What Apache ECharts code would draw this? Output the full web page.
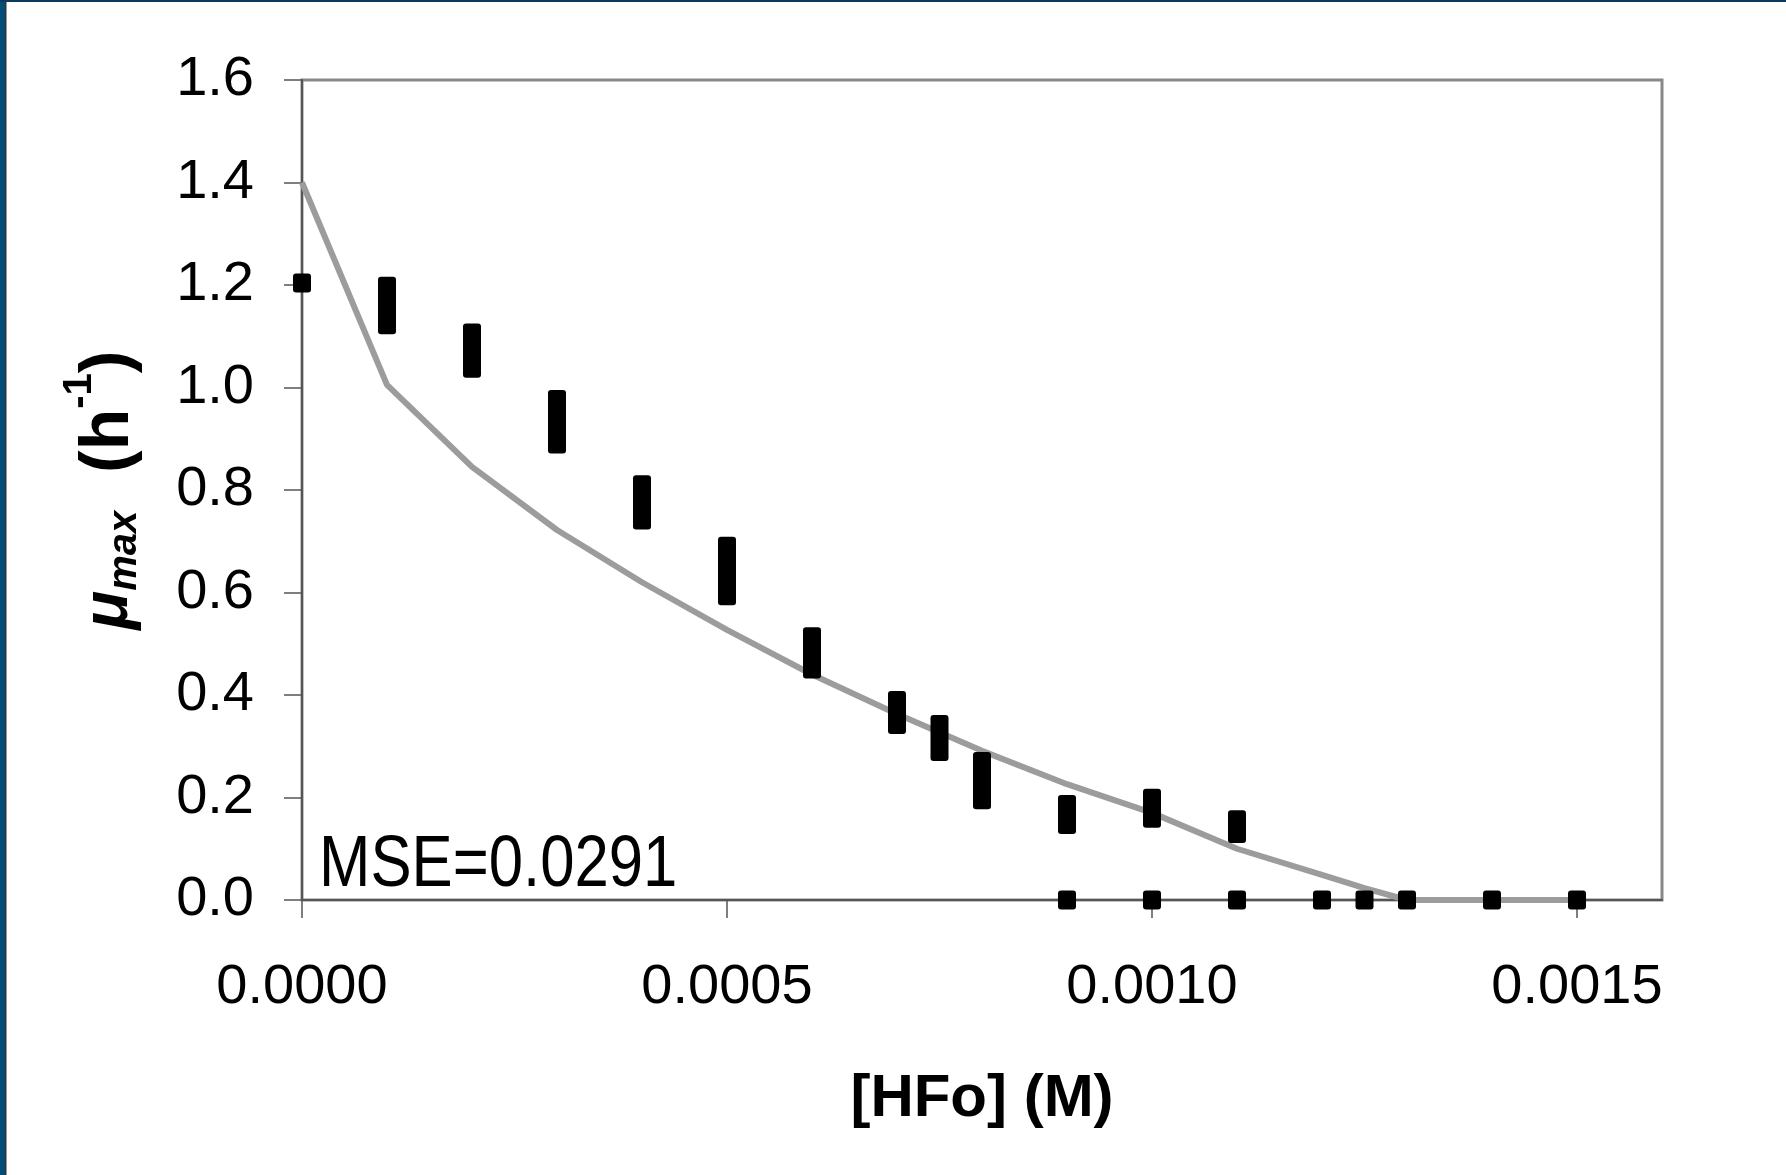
<!DOCTYPE html>
<html>
<head>
<meta charset="utf-8">
<script src="https://cdn.jsdelivr.net/npm/echarts@6/dist/echarts.min.js"></script>
<style>
html, body { margin: 0; padding: 0; background: #fff; }
#main { width: 1786px; height: 1175px; }
</style>
</head>
<body>
<div id="main"></div>
<script>
// 实验点：[HFo] (M)，均值，误差（半高）
var pointX = [0, 0.0001, 0.0002, 0.0003, 0.0004, 0.0005, 0.0006, 0.0007, 0.00075, 0.0008, 0.0009, 0.0010, 0.0011,
	0.0009, 0.0010, 0.0011, 0.0012, 0.00125, 0.0013, 0.0014, 0.0015];
var pointMean = [1.204, 1.16, 1.072, 0.933, 0.776, 0.642, 0.482, 0.366, 0.316, 0.233, 0.167, 0.179, 0.143,
	0, 0, 0, 0, 0, 0, 0, 0];
var pointErr = [0, 0.056, 0.053, 0.062, 0.053, 0.067, 0.05, 0.042, 0.045, 0.056, 0.038, 0.038, 0.032,
	0, 0, 0, 0, 0, 0, 0, 0];

// 模型曲线
var modelX = [0, 0.0001, 0.0002, 0.0003, 0.0004, 0.0005, 0.0006, 0.0007, 0.0008, 0.0009, 0.0010, 0.0011, 0.0012,
	0.00125, 0.0013, 0.0014, 0.0015];
var modelY = [1.4, 1.005, 0.845, 0.722, 0.62, 0.527, 0.44, 0.363, 0.291, 0.226, 0.17, 0.10, 0.049,
	0.023, 0, 0, 0];

// 刻度
var xTicks = [0, 0.0005, 0.0010, 0.0015];
var mseText = 'MSE=0.0291';

var font = '"Liberation Sans", Arial, sans-serif';

var chart = echarts.init(document.getElementById('main'));

var points = pointX.map(function(x, i) {
	return [x, pointMean[i], pointErr[i]];
});
var model = modelX.map(function(x, i) {
	return [x, modelY[i]];
});

chart.setOption({
	animation: false,
	backgroundColor: '#fff',
	grid: {
		left: 302,
		top: 80,
		right: 124,
		bottom: 275,
		show: true,
		borderColor: '#888',
		borderWidth: 3
	},
	xAxis: {
		type: 'value',
		min: 0,
		max: 0.0016,
		interval: 0.0005,
		name: '[HFo] (M)',
		nameLocation: 'middle',
		nameGap: 169,
		nameTextStyle: {
			fontFamily: font,
			fontWeight: 'bold',
			fontSize: 60,
			color: '#000'
		},
		axisLine: {
			lineStyle: { color: '#555', width: 2 }
		},
		axisTick: {
			show: true,
			inside: false,
			length: 18,
			customValues: xTicks,
			lineStyle: { color: '#555', width: 1.5 }
		},
		axisLabel: {
			customValues: xTicks,
			margin: 60,
			fontSize: 56,
			fontFamily: font,
			color: '#000',
			formatter: function(v) {
				return v.toFixed(4);
			}
		},
		splitLine: { show: false }
	},
	yAxis: {
		type: 'value',
		min: 0,
		max: 1.6,
		interval: 0.2,
		name: '{mu|μ}{sub|max}{b|  (h}{sup|-1}{b|)}',
		nameLocation: 'middle',
		nameRotate: 90,
		nameGap: 143,
		nameTextStyle: {
			color: '#000',
			fontFamily: font,
			rich: {
				mu: { fontSize: 64, fontWeight: 'bold', fontStyle: 'italic', fontFamily: font, color: '#000' },
				sub: { fontSize: 40, fontWeight: 'bold', fontStyle: 'italic', fontFamily: font, color: '#000', padding: [31, 0, 0, 0] },
				b: { fontSize: 68, fontWeight: 'bold', fontFamily: font, color: '#000' },
				sup: { fontSize: 40, fontWeight: 'bold', fontFamily: font, color: '#000', padding: [0, 0, 59, 0] }
			}
		},
		axisLine: {
			show: true,
			lineStyle: { color: '#555', width: 2 }
		},
		axisTick: {
			show: true,
			inside: false,
			length: 18,
			lineStyle: { color: '#555', width: 1.5 }
		},
		axisLabel: {
			margin: 48,
			fontSize: 56,
			fontFamily: font,
			color: '#000',
			formatter: function(v) {
				return v.toFixed(1);
			}
		},
		splitLine: { show: false }
	},
	series: [{
			name: 'model',
			type: 'line',
			data: model,
			symbol: 'none',
			clip: false,
			z: 2,
			lineStyle: { color: '#9c9c9c', width: 6 }
		},
		{
			name: 'data',
			type: 'custom',
			data: points,
			z: 3,
			renderItem: function(params, api) {
				var x = api.value(0);
				var m = api.value(1);
				var e = api.value(2);
				var top = api.coord([x, m + e]);
				var bot = api.coord([x, m - e]);
				var w = 18;
				var h = Math.max(bot[1] - top[1], 19);
				var cy = (top[1] + bot[1]) / 2;
				return {
					type: 'rect',
					shape: { x: top[0] - w / 2, y: cy - h / 2, width: w, height: h, r: 3 },
					style: { fill: '#000' }
				};
			}
		}
	],
	graphic: [{
			type: 'rect',
			shape: { x: 0, y: 0, width: 5, height: 1175 },
			style: { fill: '#004d7a' },
			silent: true
		},
		{
			type: 'rect',
			shape: { x: 5, y: 0, width: 1.5, height: 1175 },
			style: { fill: '#333' },
			silent: true
		},
		{
			type: 'rect',
			shape: { x: 0, y: 0, width: 1786, height: 2 },
			style: { fill: '#0b3a5e' },
			silent: true
		},
		{
			// 窄体字：用 Liberation Sans 横向压缩
			type: 'text',
			x: 319,
			y: 866,
			scaleX: 0.845,
			style: {
				text: mseText,
				font: '73px "Liberation Sans", Arial, sans-serif',
				fill: '#000',
				verticalAlign: 'middle'
			},
			silent: true
		}
	]
});
</script>
</body>
</html>
